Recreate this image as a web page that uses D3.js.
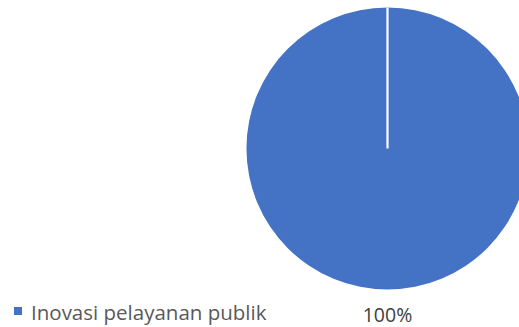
<!DOCTYPE html>
<html>
<head>
<meta charset="utf-8">
<script src="https://cdn.jsdelivr.net/npm/d3@7"></script>
<style>
  html, body { margin: 0; padding: 0; background: #fff; }
  svg { display: block; }
</style>
</head>
<body>
<svg id="chart" width="519" height="327"></svg>
<script>
// Pie data
const categories = ["Inovasi pelayanan publik"];
const values = [100];
const valueLabels = ["100%"];
const colors = ["#4472C4"];

const svg = d3.select("#chart");
const cx = 387.5, cy = 148.5, radius = 141;

const pie = d3.pie().sort(null).value(d => d.value);
const arcs = pie(categories.map((c, i) => ({ name: c, value: values[i] })));
const arc = d3.arc().innerRadius(0).outerRadius(radius);
const color = d3.scaleOrdinal().domain(categories).range(colors);

const g = svg.append("g").attr("transform", `translate(${cx},${cy})`);

g.selectAll("path.slice")
  .data(arcs)
  .join("path")
  .attr("class", "slice")
  .attr("d", arc)
  .attr("fill", d => color(d.data.name));

// slice boundary edges (radial lines at each slice start)
g.selectAll("line.edge")
  .data(arcs)
  .join("line")
  .attr("class", "edge")
  .attr("x1", 0).attr("y1", 0)
  .attr("x2", d => radius * Math.sin(d.startAngle))
  .attr("y2", d => -radius * Math.cos(d.startAngle))
  .attr("stroke", "#fff")
  .attr("stroke-width", 2.2);

// value label below the pie
svg.selectAll("text.val")
  .data(arcs)
  .join("text")
  .attr("class", "val")
  .attr("x", cx)
  .attr("y", 321.5)
  .attr("text-anchor", "middle")
  .attr("font-family", "'Open Sans', sans-serif")
  .attr("font-size", 19.5)
  .attr("fill", "#404040")
  .text((d, i) => valueLabels[i]);

// legend
const legend = svg.append("g").attr("transform", "translate(14,307)");
const items = legend.selectAll("g.item")
  .data(categories)
  .join("g")
  .attr("class", "item");
items.append("rect")
  .attr("width", 8).attr("height", 8)
  .attr("fill", d => color(d));
items.append("text")
  .attr("x", 17)
  .attr("y", 12.5)
  .attr("font-family", "'Open Sans', sans-serif")
  .attr("font-size", 20.5)
  .attr("fill", "#595959")
  .text(d => d);
</script>
</body>
</html>
